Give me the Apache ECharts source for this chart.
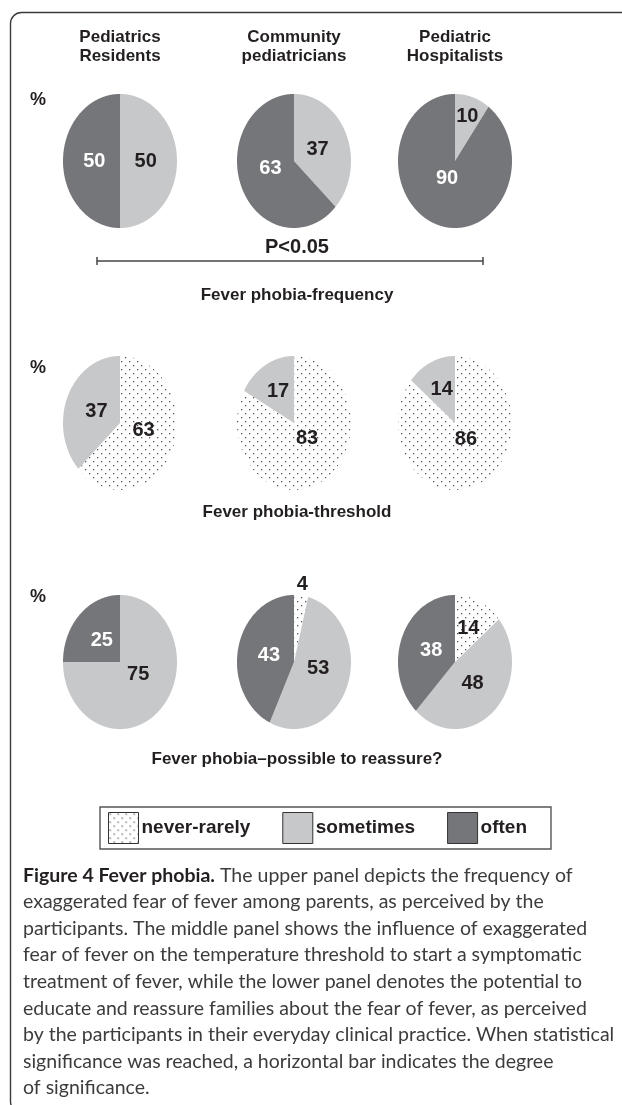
<!DOCTYPE html>
<html>
<head>
<meta charset="utf-8">
<script src="https://cdn.jsdelivr.net/npm/echarts@6/dist/echarts.min.js"></script>
<style>
  html, body { margin: 0; padding: 0; background: #fff; }
  #chart { width: 622px; height: 1105px; }
</style>
</head>
<body>
<div id="chart"></div>
<script>
  // groups (columns) and panels (rows)
  const groups = ['Pediatrics\nResidents', 'Community\npediatricians', 'Pediatric\nHospitalists']
  const panels = ['Fever phobia-frequency', 'Fever phobia-threshold', 'Fever phobia\u2013possible to reassure?']
  const categories = ['never-rarely', 'sometimes', 'often']

  // percentages per group, one array per panel and category
  const frequencyNever = [0, 0, 0]
  const frequencySometimes = [50, 37, 10]
  const frequencyOften = [50, 63, 90]
  const thresholdNever = [63, 83, 86]
  const thresholdSometimes = [37, 17, 14]
  const thresholdOften = [0, 0, 0]
  const reassureNever = [0, 4, 14]
  const reassureSometimes = [75, 53, 48]
  const reassureOften = [25, 43, 38]

  const pValue = 'P<0.05'
  const captionLines = [
    'The upper panel depicts the frequency of',
    'exaggerated fear of fever among parents, as perceived by the',
    'participants. The middle panel shows the influence of exaggerated',
    'fear of fever on the temperature threshold to start a symptomatic',
    'treatment of fever, while the lower panel denotes the potential to',
    'educate and reassure families about the fear of fever, as perceived',
    'by the participants in their everyday clinical practice. When statistical',
    'significance was reached, a horizontal bar indicates the degree',
    'of significance.'
  ]

  const panelData = [
    [frequencyNever, frequencySometimes, frequencyOften],
    [thresholdNever, thresholdSometimes, thresholdOften],
    [reassureNever, reassureSometimes, reassureOften]
  ]

  // layout
  const colX = [120, 294, 455]
  const rowY = [161, 423, 662]
  const rx = 57, ry = 67
  const titleY = [295, 512, 759]
  const percentY = [100, 368, 597]
  const boldFont = '"Liberation Sans", Arial, sans-serif'

  function dotPattern() {
    const c = document.createElement('canvas')
    c.width = 8
    c.height = 8
    const g = c.getContext('2d')
    g.fillStyle = '#fff'
    g.fillRect(0, 0, 8, 8)
    g.fillStyle = '#555'
    g.fillRect(1, 1, 1.3, 1.3)
    g.fillRect(5, 5, 1.3, 1.3)
    return c
  }

  const colors = [{ image: dotPattern(), repeat: 'repeat' }, '#c7c8ca', '#75767a']
  const labelColors = ['#231f20', '#231f20', '#ffffff']

  function makeRender(catIndex) {
    return function (params, api) {
      const start = api.value(0), end = api.value(1), val = api.value(2)
      if (!(end > start)) return
      const a0 = start / 100 * Math.PI * 2
      const a1 = end / 100 * Math.PI * 2
      const n = Math.max(2, Math.ceil((a1 - a0) / (Math.PI / 120)))
      const pts = [api.coord([0, 0])]
      for (let i = 0; i <= n; i++) {
        const a = a0 + (a1 - a0) * i / n
        pts.push(api.coord([Math.sin(a), Math.cos(a)]))
      }
      const mid = (a0 + a1) / 2
      const k = val < 8 ? 1.17 : val < 12 ? 0.7 : val < 20 ? 0.55 : 0.45
      // big slices: keep the label nearer the horizontal middle
      const sy = val > 50 ? 0.6 : 1
      const lp = api.coord([k * Math.sin(mid), k * Math.cos(mid) * sy])
      return {
        type: 'group',
        children: [
          { type: 'polygon', shape: { points: pts }, style: { fill: api.visual('color'), stroke: null } },
          {
            type: 'text', x: lp[0], y: lp[1], z2: 10,
            style: {
              text: String(val), fill: labelColors[catIndex],
              font: 'bold 20px ' + boldFont, align: 'center', verticalAlign: 'middle'
            }
          }
        ]
      }
    }
  }

  const grids = [], xAxes = [], yAxes = [], series = []
  panelData.forEach(function (rows, p) {
    groups.forEach(function (g, gi) {
      const idx = grids.length
      grids.push({ left: colX[gi] - rx, top: rowY[p] - ry, width: rx * 2, height: ry * 2, show: false })
      xAxes.push({ gridIndex: idx, type: 'value', min: -1, max: 1, show: false })
      yAxes.push({ gridIndex: idx, type: 'value', min: -1, max: 1, show: false })
      let acc = 0
      categories.forEach(function (cat, ci) {
        const v = rows[ci][gi]
        series.push({
          type: 'custom', name: cat, xAxisIndex: idx, yAxisIndex: idx,
          itemStyle: { color: colors[ci] },
          renderItem: makeRender(ci),
          data: [[acc, acc + v, v]],
          silent: true
        })
        acc += v
      })
    })
  })

  const graphics = [
    // frame (open to the right and bottom)
    { type: 'rect', shape: { x: 10.5, y: 12.5, width: 900, height: 1100, r: 11 }, style: { fill: null, stroke: '#3a3a3a', lineWidth: 1.4 } },
    // significance bar
    { type: 'line', shape: { x1: 97, y1: 261, x2: 483, y2: 261 }, style: { stroke: '#444', lineWidth: 1.5 } },
    { type: 'line', shape: { x1: 97, y1: 257, x2: 97, y2: 265 }, style: { stroke: '#444', lineWidth: 1.5 } },
    { type: 'line', shape: { x1: 483, y1: 257, x2: 483, y2: 265 }, style: { stroke: '#444', lineWidth: 1.5 } },
    { type: 'text', x: 297, y: 247, style: { text: pValue, font: 'bold 20px ' + boldFont, fill: '#231f20', align: 'center', verticalAlign: 'middle' } }
  ]
  groups.forEach(function (g, gi) {
    graphics.push({ type: 'text', x: colX[gi], y: 47, style: { text: g, font: 'bold 17px ' + boldFont, lineHeight: 19, fill: '#231f20', align: 'center', verticalAlign: 'middle' } })
  })
  panels.forEach(function (t, p) {
    graphics.push({ type: 'text', x: 297, y: titleY[p], style: { text: t, font: 'bold 17px ' + boldFont, fill: '#231f20', align: 'center', verticalAlign: 'middle' } })
    graphics.push({ type: 'text', x: 38, y: percentY[p], style: { text: '%', font: 'bold 18px ' + boldFont, fill: '#231f20', align: 'center', verticalAlign: 'middle' } })
  })
  graphics.push({
    type: 'text', x: 23, y: 862,
    style: {
      text: '{b|Figure 4 Fever phobia.} ' + captionLines.join('\n'),
      font: '19.5px Lato, sans-serif', fill: '#3c3c3c', lineHeight: 26.6,
      rich: { b: { font: 'bold 19.5px Lato, sans-serif', fill: '#231f20', lineHeight: 26.6 } }
    }
  })

  const chart = echarts.init(document.getElementById('chart'))
  chart.setOption({
    animation: false,
    grid: grids,
    xAxis: xAxes,
    yAxis: yAxes,
    legend: {
      data: categories,
      left: 100, top: 807,
      orient: 'horizontal',
      icon: 'rect',
      itemWidth: 30, itemHeight: 31, itemGap: 32,
      padding: [5, 24, 5, 8],
      borderColor: '#555', borderWidth: 1.4,
      selectedMode: false,
      itemStyle: { borderColor: '#333', borderWidth: 1 },
      textStyle: { fontFamily: boldFont, fontWeight: 'bold', fontSize: 19, color: '#231f20', padding: [0, 0, 0, -2] }
    },
    graphic: graphics,
    series: series
  })
</script>
</body>
</html>
